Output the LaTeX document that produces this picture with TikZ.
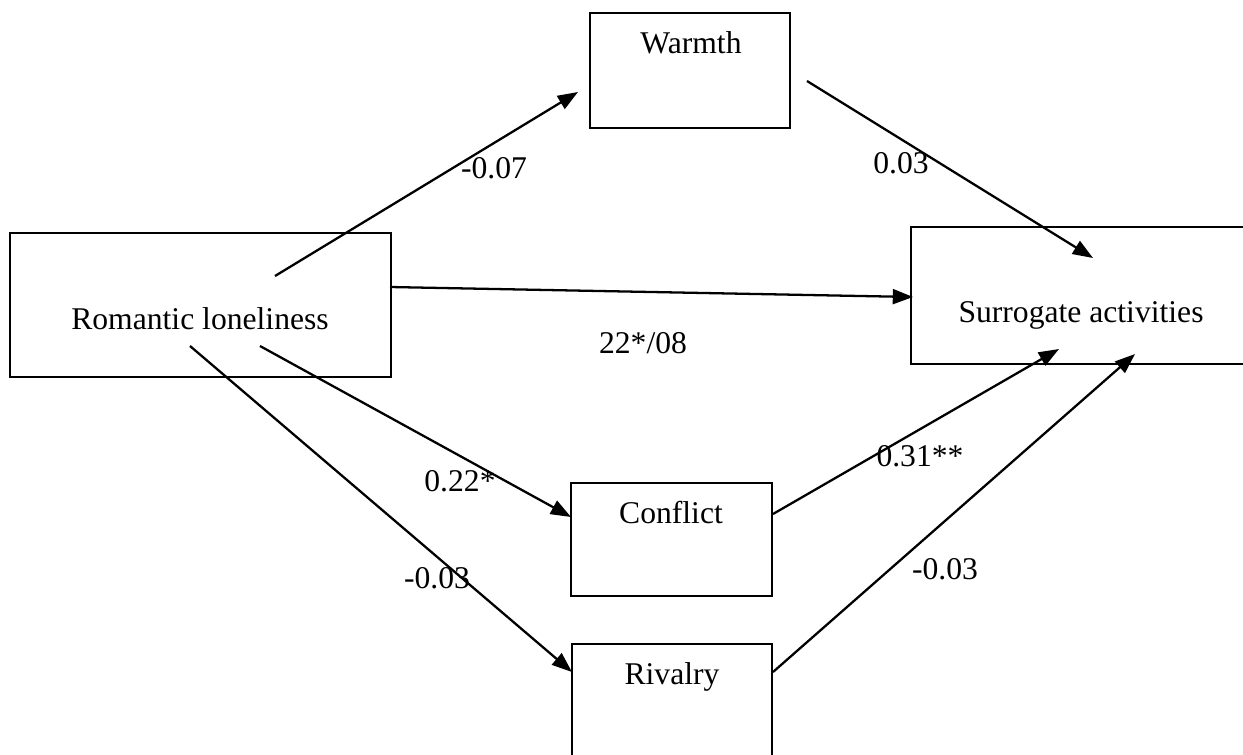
\documentclass[tikz,border=0pt]{standalone}
\usepackage{fontspec}
\setmainfont{Liberation Serif}
\usetikzlibrary{arrows.meta}
\tikzset{>={Triangle[length=11.5pt,width=8.5pt]}}
\tikzset{
    box/.style={draw, line width=1.2pt, inner sep=0pt},
    txt/.style={font=\fontsize{18}{22}\selectfont, anchor=base, inner sep=0pt},
    link/.style={->, line width=1.3pt}
}

\begin{document}
\begin{tikzpicture}[x=0.02cm, y=-0.02cm]
    \useasboundingbox (0,0) rectangle (1243,754);
    % set up the boxes
    \node[box, minimum width=4cm, minimum height=2.3cm] (W) at (690,70.5) {};
    \node[box, minimum width=7.62cm, minimum height=2.88cm] (R) at (200.5,305) {};
    \node[box, minimum width=6.76cm, minimum height=2.74cm] (S) at (1080,295.5) {};
    \node[box, minimum width=4.02cm, minimum height=2.26cm] (C) at (671.5,539.5) {};
    \node[box, minimum width=4cm, minimum height=2.26cm] (V) at (672,700.5) {};
    % names inside the boxes
    \node[txt] (Wt) at (691,53) {Warmth};
    \node[txt] (Rt) at (200,329) {Romantic loneliness};
    \node[txt] (St) at (1081,322) {Surrogate activities};
    \node[txt] (Ct) at (671,523) {Conflict};
    \node[txt] (Vt) at (672,684) {Rivalry};
    % ends of the arrows
    \coordinate (R1) at (275,276);
    \coordinate (R2) at (390,287);
    \coordinate (R3) at (260,346);
    \coordinate (R4) at (190,346);
    \coordinate (W1) at (578,92);
    \coordinate (W2) at (807,81);
    \coordinate (S1) at (1093,258);
    \coordinate (S2) at (913,297);
    \coordinate (S3) at (1059,349);
    \coordinate (S4) at (1135,354);
    \coordinate (C1) at (571,517);
    \coordinate (C2) at (773,514);
    \coordinate (V1) at (572,672);
    \coordinate (V2) at (773,672);
    % draw arrows and text between them
    \draw[link] (R1)--(W1);
    \node[txt] (a) at (494,178) {-0.07};
    \draw[link] (W2)--(S1);
    \node[txt] (b) at (901,173) {0.03};
    \draw[link] (R2)--(S2);
    \node[txt] (c) at (643,353) {22*/08};
    \draw[link] (R3)--(C1);
    \node[txt] (d) at (460,491) {0.22*};
    \draw[link] (R4)--(V1);
    \node[txt] (e) at (437,588) {-0.03};
    \draw[link] (C2)--(S3);
    \node[txt] (f) at (920,466) {0.31**};
    \draw[link] (V2)--(S4);
    \node[txt] (g) at (945,579) {-0.03};
\end{tikzpicture}
\end{document}
